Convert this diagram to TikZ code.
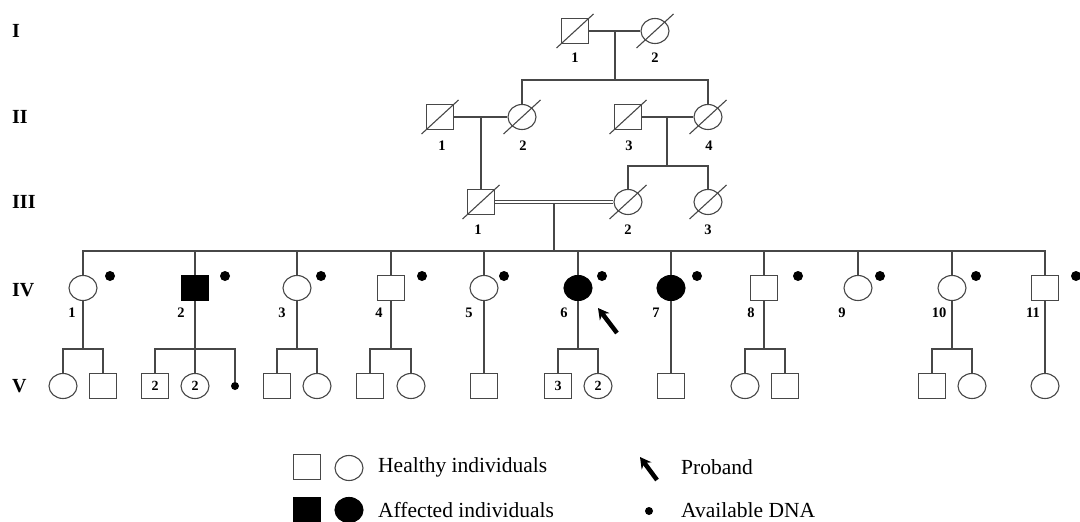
\documentclass[tikz,border=0pt]{standalone}
\usepackage{fontspec}
\setmainfont{Liberation Serif}
\usetikzlibrary{shapes.geometric,arrows.meta,calc}
\begin{document}
\begin{tikzpicture}[x=1pt,y=-1pt,
 ln/.style={draw=black!72,line width=1.1pt},
 sq/.style={rectangle,draw=black!72,line width=1.1pt,minimum width=27pt,minimum height=25pt,inner sep=0pt,font=\bfseries\fontsize{14}{14}\selectfont},
 ci/.style={ellipse,draw=black!72,line width=1.1pt,minimum width=28pt,minimum height=25pt,inner sep=0pt,font=\bfseries\fontsize{14}{14}\selectfont},
 aff/.style={fill=black,draw=black},
 dna/.style={circle,fill=black,inner sep=0pt,minimum size=10pt},
 sdot/.style={circle,fill=black,inner sep=0pt,minimum size=8pt},
 num/.style={font=\bfseries\fontsize{14.5}{14.5}\selectfont,inner sep=0pt},
 gen/.style={font=\bfseries\fontsize{20}{20}\selectfont,inner sep=0pt,anchor=west},
 leg/.style={font=\fontsize{21.5}{21.5}\selectfont,inner sep=0pt,anchor=west},
 prob/.style={draw=black,line width=4.5pt,-{Stealth[length=11pt,width=12pt]}},
]
\useasboundingbox (0,0) rectangle (1080,522);
% generation labels
\node[gen] (gI) at (12,31) {I};
\node[gen] (gII) at (12,117) {II};
\node[gen] (gIII) at (12,202) {III};
\node[gen] (gIV) at (12,290) {IV};
\node[gen] (gV) at (12,386) {V};
% generation I
\node[sq] (I1) at (575,31) {};
\node[ci] (I2) at (655,31) {};
\node[num] (lI1) at (575,58) {1};
\node[num] (lI2) at (655,58) {2};
% generation II
\node[sq] (II1) at (440,117) {};
\node[ci] (II2) at (522,117) {};
\node[sq] (II3) at (628,117) {};
\node[ci] (II4) at (708,117) {};
\node[num] (lII1) at (442,146) {1};
\node[num] (lII2) at (523,146) {2};
\node[num] (lII3) at (629,146) {3};
\node[num] (lII4) at (709,146) {4};
% generation III
\node[sq] (III1) at (481,202) {};
\node[ci] (III2) at (628,202) {};
\node[ci] (III3) at (708,202) {};
\node[num] (lIII1) at (478,230) {1};
\node[num] (lIII2) at (628,230) {2};
\node[num] (lIII3) at (708,230) {3};
% deceased slashes
\foreach \n in {I1,I2,II1,II2,II3,II4,III1,III2,III3}
  \draw[ln] ([shift={(-18.5,17)}]\n.center) -- ([shift={(18.5,-17)}]\n.center);
% generation I connectors
\coordinate (mI) at (615,31);
\coordinate (sII) at (615,80);
\draw[ln] (I1.east) -- (I2.west);
\draw[ln] (mI) -- (sII);
\draw[ln] (II2.north) |- (sII) -| (II4.north);
% generation II connectors
\coordinate (mII) at (481,117);
\coordinate (mII2) at (667,117);
\coordinate (sIII) at (667,166);
\draw[ln] (II1.east) -- (II2.west);
\draw[ln] (mII) -- (III1.north);
\draw[ln] (II3.east) -- (II4.west);
\draw[ln] (mII2) -- (sIII);
\draw[ln] (III2.north) |- (sIII) -| (III3.north);
% consanguineous marriage
\draw[ln] ([yshift=1.8pt]III1.east) -- ([yshift=1.8pt]III2.west);
\draw[ln] ([yshift=-1.8pt]III1.east) -- ([yshift=-1.8pt]III2.west);
\coordinate (mIII) at (554,204);
\coordinate (sIV) at (554,251);
\draw[ln] (mIII) -- (sIV);
% generation IV
\node[ci] (IV1) at (83,288) {};
\node[sq,aff] (IV2) at (195,288) {};
\node[ci] (IV3) at (297,288) {};
\node[sq] (IV4) at (391,288) {};
\node[ci] (IV5) at (484,288) {};
\node[ci,aff] (IV6) at (578,288) {};
\node[ci,aff] (IV7) at (671,288) {};
\node[sq] (IV8) at (764,288) {};
\node[ci] (IV9) at (858,288) {};
\node[ci] (IV10) at (952,288) {};
\node[sq] (IV11) at (1045,288) {};
\draw[ln] (IV1.north) |- (sIV) -| (IV11.north);
\foreach \n in {IV2,IV3,IV4,IV5,IV6,IV7,IV8,IV9,IV10}
  \draw[ln] (\n.north) -- (\n.north |- sIV);
% labels IV
\foreach \n/\x in {1/72,2/181,3/282,4/379,5/469,6/564,7/656,8/751,9/842,10/939,11/1033}
  \node[num] (lIV\n) at (\x,313) {\n};
% DNA dots IV
\foreach \n/\x in {1/110,2/225,3/321,4/422,5/504,6/602,7/697,8/798,9/880,10/976,11/1076}
  \node[dna] (dIV\n) at (\x,276) {};
% proband arrow
\coordinate (pbt) at (617,333);
\coordinate (pbh) at (598,308);
\draw[prob] (pbt) -- (pbh);
% generation V
\coordinate (sV) at (0,349);
\node[ci] (V1a) at (63,386) {};
\node[sq] (V1b) at (103,386) {};
\node[sq] (V2a) at (155,386) {2};
\node[ci] (V2b) at (195,386) {2};
\node[sdot] (V2c) at (235,386) {};
\node[sq] (V3a) at (277,386) {};
\node[ci] (V3b) at (317,386) {};
\node[sq] (V4a) at (370,386) {};
\node[ci] (V4b) at (411,386) {};
\node[sq] (V5a) at (484,386) {};
\node[sq] (V6a) at (558,386) {3};
\node[ci] (V6b) at (598,386) {2};
\node[sq] (V7a) at (671,386) {};
\node[ci] (V8a) at (745,386) {};
\node[sq] (V8b) at (785,386) {};
\node[sq] (V10a) at (932,386) {};
\node[ci] (V10b) at (972,386) {};
\node[ci] (V11a) at (1045,386) {};
% generation V connectors
\foreach \p in {IV1,IV2,IV3,IV4,IV6,IV8,IV10}
  \draw[ln] (\p.south) -- (\p.south |- sV);
\draw[ln] (V1a.north) |- (sV -| V1b.north) -- (V1b.north);
\draw[ln] (V2a.north) |- (sV -| V2c.north) -- (V2c.north);
\draw[ln] (V2b.north) -- (V2b.north |- sV);
\draw[ln] (V3a.north) |- (sV -| V3b.north) -- (V3b.north);
\draw[ln] (V4a.north) |- (sV -| V4b.north) -- (V4b.north);
\draw[ln] (IV5.south) -- (V5a.north);
\draw[ln] (V6a.north) |- (sV -| V6b.north) -- (V6b.north);
\draw[ln] (IV7.south) -- (V7a.north);
\draw[ln] (V8a.north) |- (sV -| V8b.north) -- (V8b.north);
\draw[ln] (V10a.north) |- (sV -| V10b.north) -- (V10b.north);
\draw[ln] (IV11.south) -- (V11a.north);
% legend
\node[sq] (Lsq) at (307,467) {};
\node[ci] (Lci) at (349,468) {};
\node[sq,aff] (Lfsq) at (307,510) {};
\node[ci,aff] (Lfci) at (349,510) {};
\node[leg] (Lt1) at (378,467) {Healthy individuals};
\node[leg] (Lt2) at (378,510) {Affected individuals};
\coordinate (Lpt) at (657,480);
\coordinate (Lph) at (640,457);
\draw[prob] (Lpt) -- (Lph);
\node[sdot] (Ldot) at (649,511) {};
\node[leg] (Lt3) at (681,467) {Proband};
\node[leg] (Lt4) at (681,510) {Available DNA};
\end{tikzpicture}
\end{document}
